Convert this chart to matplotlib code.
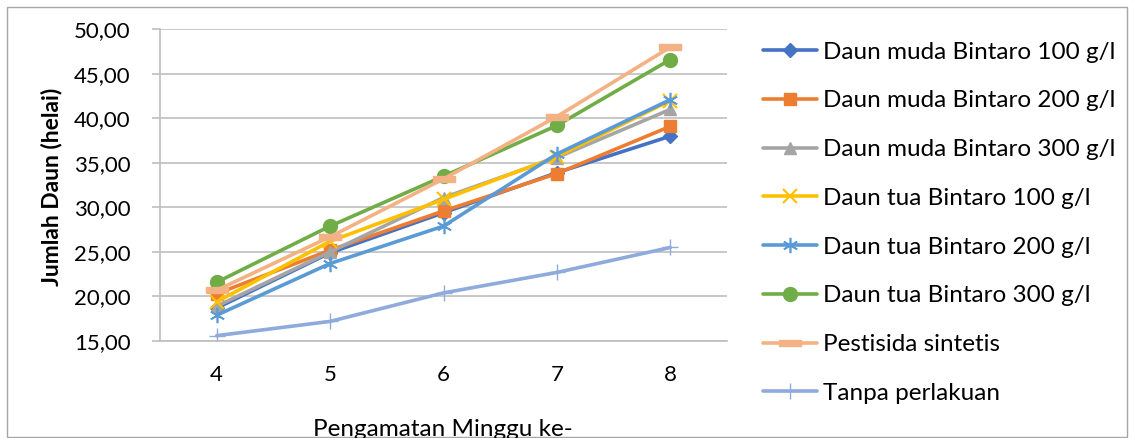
import matplotlib.pyplot as plt
from matplotlib.patches import Rectangle

plt.rcParams['font.family'] = ['Lato', 'DejaVu Sans']

weeks = [4, 5, 6, 7, 8]

labels = ["Daun muda Bintaro 100 g/l", "Daun muda Bintaro 200 g/l",
          "Daun muda Bintaro 300 g/l", "Daun tua Bintaro 100 g/l",
          "Daun tua Bintaro 200 g/l", "Daun tua Bintaro 300 g/l",
          "Pestisida sintetis", "Tanpa perlakuan"]

muda_100 = [18.7, 24.9, 29.4, 33.9, 38.0]
muda_200 = [20.3, 25.2, 29.6, 33.8, 39.1]
muda_300 = [18.9, 25.0, 31.1, 35.6, 41.0]
tua_100 = [19.4, 26.2, 30.9, 35.7, 42.0]
tua_200 = [17.9, 23.7, 27.9, 36.0, 42.1]
tua_300 = [21.6, 27.9, 33.5, 39.2, 46.6]
pestisida = [20.7, 26.7, 33.2, 40.2, 48.0]
tanpa = [15.6, 17.2, 20.4, 22.7, 25.5]

series = [muda_100, muda_200, muda_300, tua_100, tua_200, tua_300, pestisida, tanpa]

colors = ["#4472C4", "#ED7D31", "#A5A5A5", "#FFC000",
          "#5B9BD5", "#70AD47", "#F4B183", "#8FAADC"]

# Excel-like "dash" marker for the pesticide series
dash = [(-1.6, -0.5), (1.6, -0.5), (1.6, 0.5), (-1.6, 0.5), (-1.6, -0.5)]
markers = ["D", "s", "^", "x", (6, 2, 0), "o", dash, "+"]
msizes = [7, 9, 9, 10, 11, 10, 16, 12]
mews = [1, 1, 1, 1.5, 1.2, 1, 1, 1]

fig = plt.figure(figsize=(11.34, 4.38), dpi=100)
ax = fig.add_axes([160 / 1134, 97 / 438, 567 / 1134, 311.7 / 438])

for vals, lab, c, m, ms, mew in zip(series, labels, colors, markers, msizes, mews):
    ax.plot(weeks, vals, color=c, lw=2.6, marker=m, markersize=ms,
            markerfacecolor=c, markeredgecolor=c, markeredgewidth=mew,
            label=lab, solid_capstyle='round')

ax.set_xlim(3.5, 8.5)
ax.set_ylim(15, 50)
ax.set_xticks(weeks)
ax.set_yticks(range(15, 51, 5))
ax.set_yticklabels([f"{v},00" for v in range(15, 51, 5)])
ax.grid(axis='y', color='#BFBFBF', lw=1.2)
ax.set_axisbelow(True)
for s in ['top', 'right']:
    ax.spines[s].set_visible(False)
for s in ['left', 'bottom']:
    ax.spines[s].set_color('#BFBFBF')
    ax.spines[s].set_linewidth(1.2)
ax.tick_params(axis='y', length=6, color='#BFBFBF', width=1.2, labelsize=16, pad=15)
ax.tick_params(axis='x', length=0, labelsize=16, pad=17)

fig.text(52 / 1134, 1 - 187 / 438, "Jumlah Daun (helai)", rotation=90,
         ha='center', va='center', fontsize=16.5, fontweight='bold')
fig.text(443 / 1134, 1.5 / 438, "Pengamatan Minggu ke-", ha='center',
         va='baseline', fontsize=17.5)

fig.legend(loc='upper left', bbox_to_anchor=(753 / 1134, 1 - 32 / 438),
           frameon=False, fontsize=17.5, handlelength=2.22, handletextpad=0.25,
           labelspacing=1.14, borderaxespad=0)

fig.patches.append(Rectangle((7 / 1134, 1 / 438), 1120 / 1134, 430 / 438,
                             transform=fig.transFigure, fill=False,
                             edgecolor='#A6A6A6', lw=1))

fig.savefig("out.png", dpi=100)
